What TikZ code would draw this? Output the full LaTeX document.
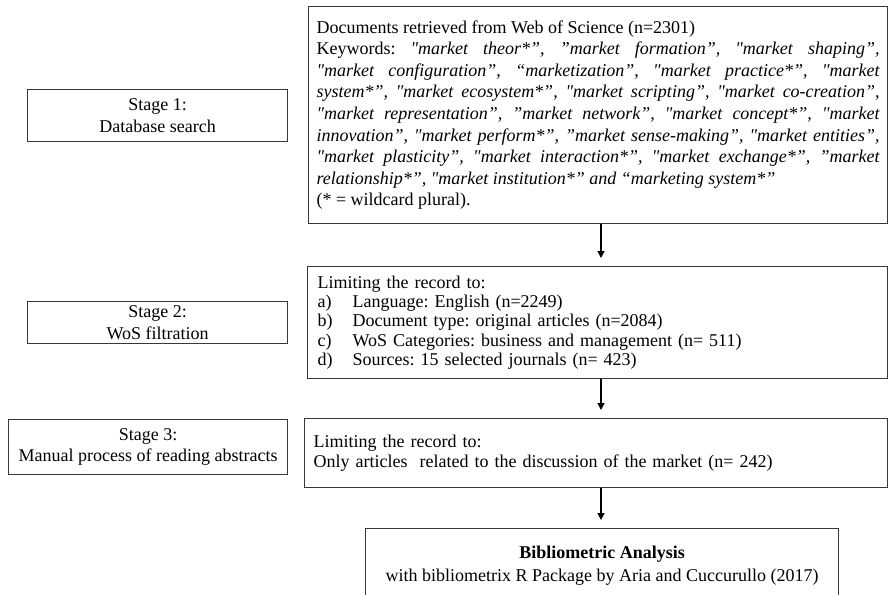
\documentclass[tikz,border=0pt]{standalone}
\usepackage{fontspec}
\setmainfont{Liberation Serif}[Ligatures=TeXOff]
\usetikzlibrary{arrows.meta,calc}
\tikzset{
  box/.style={draw=black!78, line width=1.1pt, inner sep=0pt, anchor=north west},
  stagebox/.style={box, align=center, font=\fontsize{18}{21.5}\selectfont},
  arr/.style={line width=1.4pt, -{Triangle[length=7pt,width=7pt]}, shorten >=8pt}
}
\frenchspacing
\begin{document}
\begin{tikzpicture}[x=1pt,y=-1pt]
\useasboundingbox (0,0) rectangle (888,594);
\fill[white] (0,0) rectangle (888,594);
\coordinate (ax) at (601,0);

% Stage boxes
\node[stagebox, minimum width=260, minimum height=52] (s1) at (27,89) {Stage 1:\\Database search};
\node[stagebox, minimum width=260, minimum height=42] (s2) at (27,301) {Stage 2:\\WoS filtration};
\node[stagebox, minimum width=279, minimum height=55] (s3) at (8,419) {Stage 3:\\Manual process of reading abstracts};

% Box 1: database search
\node[box, minimum width=579, minimum height=217, text width=563, align=justify,
      font=\fontsize{18}{21.6}\selectfont] (kw) at (308,6)
{\frenchspacing\tolerance=10000\hyphenpenalty=10000\exhyphenpenalty=10000
Documents retrieved from Web of Science (n=2301)\\
Keywords: \textit{"market theor*”, ”market formation”, "market shaping”,\linebreak
"market configuration”, “marketization”, "market practice*”, "market\linebreak
system*”, "market ecosystem*”, "market scripting”, "market co-creation”,\linebreak
"market representation”, ”market network”, "market concept*”, "market\linebreak
innovation”, "market perform*”, ”market sense-making”, "market entities”,\linebreak
"market plasticity”, "market interaction*”, "market exchange*”, ”market\linebreak
relationship*”, "market institution*” and “marketing system*”}\\
(* = wildcard plural).};

% Box 2: WoS filtration
\node[box, minimum width=580, minimum height=112, text width=560, align=left,
      font=\fontsize{18}{19.2}\selectfont] (wos) at (307,266)
{\frenchspacing Limiting the record to:\\
\makebox[35pt][l]{a)}Language: English (n=2249)\\
\makebox[35pt][l]{b)}Document type: original articles (n=2084)\\
\makebox[35pt][l]{c)}WoS Categories: business and management (n= 511)\\
\makebox[35pt][l]{d)}Sources: 15 selected journals (n= 423)};

% Box 3: manual reading
\node[box, minimum width=583, minimum height=69, text width=565, align=left,
      font=\fontsize{18}{19.5}\selectfont] (man) at (304,418)
{\frenchspacing Limiting the record to:\\
Only articles\ \ related to the discussion of the market (n= 242)};

% Box 4: bibliometric analysis
\node[box, minimum width=473, minimum height=75, align=center,
      font=\fontsize{18}{23}\selectfont] (bib) at (365,528)
{\textbf{Bibliometric Analysis}\\
with bibliometrix R Package by Aria and Cuccurullo (2017)};

% Connectors
\draw[arr] (kw.south -| ax) -- (wos.north -| ax);
\draw[arr] (wos.south -| ax) -- (man.north -| ax);
\draw[arr] (man.south -| ax) -- (bib.north -| ax);
\end{tikzpicture}
\end{document}
